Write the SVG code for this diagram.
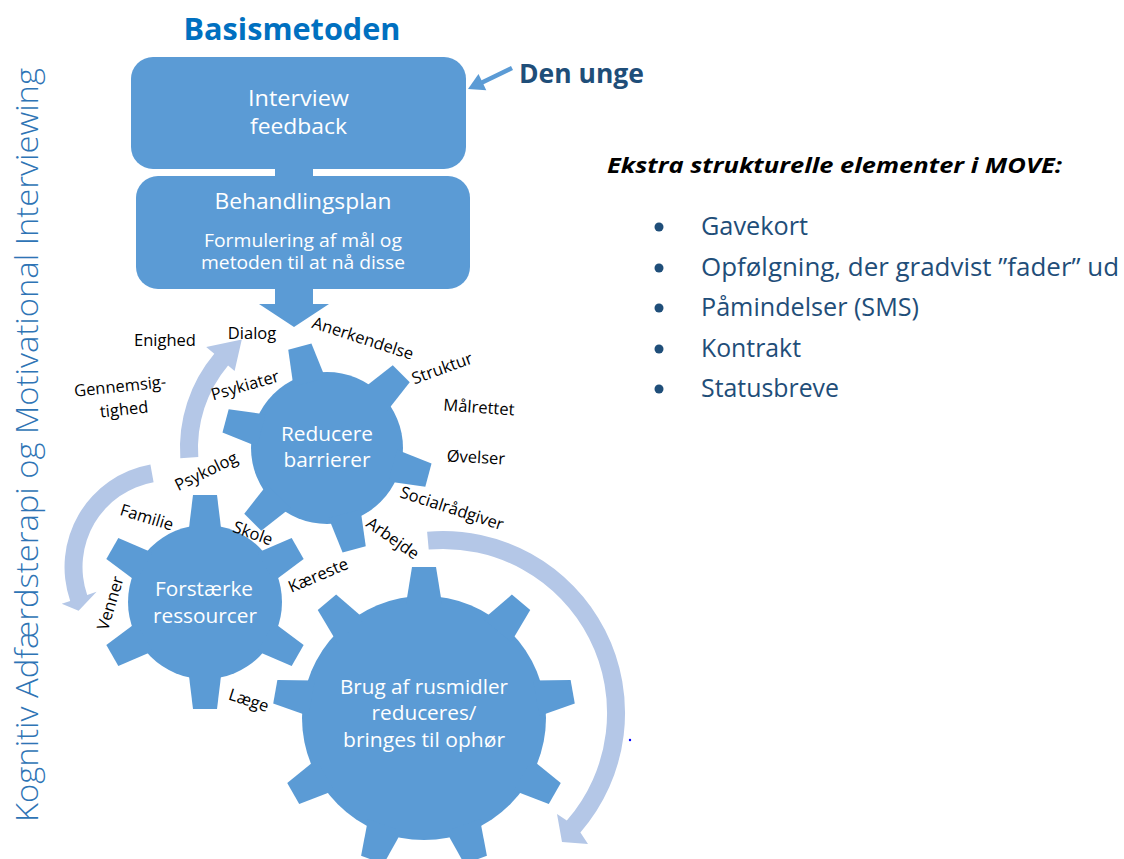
<svg xmlns="http://www.w3.org/2000/svg" width="1124" height="859" viewBox="0 0 1124 859">
<style>
text { font-family: "Open Sans", "Liberation Sans", sans-serif; }
.box { fill: #5b9bd5; }
.wt { fill: #ffffff; text-anchor: middle; }
.gear { fill: #5b9bd5; }
.lbl { fill: #000000; font-size: 16.5px; text-anchor: middle; }
.arc { fill: #b4c7e7; }
.item { fill: #1f4e79; font-size: 25px; }
.bul { fill: #1f4e79; }
.conn { fill: #5b9bd5; }
</style>
<defs>
  <polygon id="tooth-a" points="68,-16.5 105,-12 105,12 68,16.5"/>
  <polygon id="tooth-b" points="70,-16.5 107,-12 107,12 70,16.5"/>
  <polygon id="tooth-c" points="114,-18 151,-12 151,12 114,18"/>
</defs>
<rect width="1124" height="859" fill="#ffffff"/>

<g id="side-title">
  <text transform="translate(38,445) rotate(-90)" text-anchor="middle" font-size="32" font-weight="300" fill="#2e74b5" textLength="754" lengthAdjust="spacingAndGlyphs">Kognitiv Adfærdsterapi og Motivational Interviewing</text>
</g>

<g id="title">
  <text x="292" y="40" text-anchor="middle" font-size="31" font-weight="bold" fill="#0070c0" textLength="217" lengthAdjust="spacingAndGlyphs">Basismetoden</text>
</g>

<g id="connectors">
  <rect class="conn" x="275" y="160" width="38" height="22"/>
  <polygon class="conn" points="275,286 313,286 313,304 329,304 294,327 259,304 275,304"/>
  <line x1="512" y1="68" x2="481" y2="83" stroke="#5b9bd5" stroke-width="4.5"/>
  <polygon class="conn" points="468,89 478.5,74 486.3,90.2"/>
  <path class="arc" d="M 180.3 458.2 A 146.5 146.5 0 0 1 214.3 353.8 L 206.2 347.1 L 241.8 339.6 L 234.6 370.9 L 228.1 365.4 A 128.5 128.5 0 0 0 198.3 457 Z"/>
  <path class="arc" d="M 150.4 464.6 A 104 104 0 0 0 70.2 600.9 L 61.7 603.8 L 78.6 610.8 L 96.6 591.7 L 87.2 595 A 86 86 0 0 1 153.6 482.3 Z"/>
  <path class="arc" d="M 427.1 531.7 A 182 182 0 0 1 580.4 832.4 L 588 844 L 562 842 L 557 814 L 566.8 820.6 A 164 164 0 0 0 428.7 549.6 Z"/>
</g>

<g id="node-interview">
  <rect class="box" x="131" y="57" width="335" height="112" rx="22"/>
  <text class="wt" x="298.5" y="106" font-size="21.5" textLength="101" lengthAdjust="spacingAndGlyphs">Interview</text>
  <text class="wt" x="298.5" y="134" font-size="21.5" textLength="97" lengthAdjust="spacingAndGlyphs">feedback</text>
</g>

<g id="node-den-unge">
  <text x="519" y="83" font-size="26" font-weight="bold" fill="#1f4e79" textLength="125" lengthAdjust="spacingAndGlyphs">Den unge</text>
</g>

<g id="node-behandlingsplan">
  <rect class="box" x="136" y="176" width="334" height="113" rx="22"/>
  <text class="wt" x="303" y="209" font-size="22" textLength="177" lengthAdjust="spacingAndGlyphs">Behandlingsplan</text>
  <text class="wt" x="303" y="247" font-size="17.5" textLength="198" lengthAdjust="spacingAndGlyphs">Formulering af mål og</text>
  <text class="wt" x="303" y="269" font-size="17.5" textLength="204" lengthAdjust="spacingAndGlyphs">metoden til at nå disse</text>
</g>

<g id="gear-reducere">
  <g class="gear" transform="translate(327,448)">
    <circle r="76"/>
    <use href="#tooth-a" transform="rotate(-105)"/>
    <use href="#tooth-a" transform="rotate(-45)"/>
    <use href="#tooth-a" transform="rotate(15)"/>
    <use href="#tooth-a" transform="rotate(75)"/>
    <use href="#tooth-a" transform="rotate(135)"/>
    <use href="#tooth-a" transform="rotate(195)"/>
  </g>
  <text class="wt" x="327" y="441" font-size="20.5" textLength="92" lengthAdjust="spacingAndGlyphs">Reducere</text>
  <text class="wt" x="327" y="467" font-size="20.5" textLength="87" lengthAdjust="spacingAndGlyphs">barrierer</text>
</g>

<g id="gear-forstaerke">
  <g class="gear" transform="translate(205,602)">
    <circle r="77"/>
    <use href="#tooth-b" transform="rotate(-90)"/>
    <use href="#tooth-b" transform="rotate(-30)"/>
    <use href="#tooth-b" transform="rotate(30)"/>
    <use href="#tooth-b" transform="rotate(90)"/>
    <use href="#tooth-b" transform="rotate(150)"/>
    <use href="#tooth-b" transform="rotate(210)"/>
  </g>
  <text class="wt" x="204" y="596" font-size="20.5" textLength="98" lengthAdjust="spacingAndGlyphs">Forstærke</text>
  <text class="wt" x="205" y="623" font-size="20.5" textLength="104" lengthAdjust="spacingAndGlyphs">ressourcer</text>
</g>

<g id="gear-rusmidler">
  <g class="gear" transform="translate(424,718)">
    <circle r="122"/>
    <use href="#tooth-c" transform="rotate(-90)"/>
    <use href="#tooth-c" transform="rotate(-50)"/>
    <use href="#tooth-c" transform="rotate(-10)"/>
    <use href="#tooth-c" transform="rotate(30)"/>
    <use href="#tooth-c" transform="rotate(70)"/>
    <use href="#tooth-c" transform="rotate(110)"/>
    <use href="#tooth-c" transform="rotate(150)"/>
    <use href="#tooth-c" transform="rotate(190)"/>
    <use href="#tooth-c" transform="rotate(230)"/>
  </g>
  <text class="wt" x="424" y="694" font-size="20.5" textLength="168" lengthAdjust="spacingAndGlyphs">Brug af rusmidler</text>
  <text class="wt" x="424" y="720" font-size="20.5" textLength="105" lengthAdjust="spacingAndGlyphs">reduceres/</text>
  <text class="wt" x="424" y="747" font-size="20.5" textLength="162" lengthAdjust="spacingAndGlyphs">bringes til ophør</text>
</g>

<g id="labels">
  <text class="lbl" transform="translate(252,333)" y="6">Dialog</text>
  <text class="lbl" transform="translate(165,340)" y="6">Enighed</text>
  <text class="lbl" transform="translate(363,338) rotate(18)" y="6">Anerkendelse</text>
  <text class="lbl" transform="translate(442,368) rotate(-20)" y="6">Struktur</text>
  <text class="lbl" transform="translate(479,407) rotate(4)" y="6">Målrettet</text>
  <text class="lbl" transform="translate(476,457) rotate(3)" y="6">Øvelser</text>
  <text class="lbl" transform="translate(452,508) rotate(18)" y="6">Socialrådgiver</text>
  <text class="lbl" transform="translate(393,538) rotate(35)" y="6">Arbejde</text>
  <text class="lbl" transform="translate(245,385) rotate(-16)" y="6">Psykiater</text>
  <text class="lbl" transform="translate(120,386) rotate(-6)" y="6">Gennemsig-</text>
  <text class="lbl" transform="translate(124,409) rotate(-6)" y="6">tighed</text>
  <text class="lbl" transform="translate(206,471) rotate(-26)" y="6">Psykolog</text>
  <text class="lbl" transform="translate(147,517) rotate(17)" y="6">Familie</text>
  <text class="lbl" transform="translate(253,533) rotate(20)" y="6">Skole</text>
  <text class="lbl" transform="translate(318,575) rotate(-23)" y="6">Kæreste</text>
  <text class="lbl" transform="translate(110,603) rotate(-73)" y="6">Venner</text>
  <text class="lbl" transform="translate(249,700) rotate(18)" y="6">Læge</text>
</g>

<g id="extra-list">
  <text x="607" y="173" font-size="22" font-weight="bold" font-style="italic" fill="#000000" textLength="455" lengthAdjust="spacingAndGlyphs">Ekstra strukturelle elementer i MOVE:</text>
  <circle class="bul" cx="659" cy="227" r="4.5"/>
  <circle class="bul" cx="659" cy="268" r="4.5"/>
  <circle class="bul" cx="659" cy="308" r="4.5"/>
  <circle class="bul" cx="659" cy="349" r="4.5"/>
  <circle class="bul" cx="659" cy="389" r="4.5"/>
  <text class="item" x="701" y="235" textLength="107" lengthAdjust="spacingAndGlyphs">Gavekort</text>
  <text class="item" x="701" y="276" textLength="418" lengthAdjust="spacingAndGlyphs">Opfølgning, der gradvist ”fader” ud</text>
  <text class="item" x="701" y="316" textLength="218" lengthAdjust="spacingAndGlyphs">Påmindelser (SMS)</text>
  <text class="item" x="701" y="357" textLength="100" lengthAdjust="spacingAndGlyphs">Kontrakt</text>
  <text class="item" x="701" y="397" textLength="138" lengthAdjust="spacingAndGlyphs">Statusbreve</text>
</g>

<circle cx="630" cy="740" r="1.2" fill="#0000ff"/>
</svg>
